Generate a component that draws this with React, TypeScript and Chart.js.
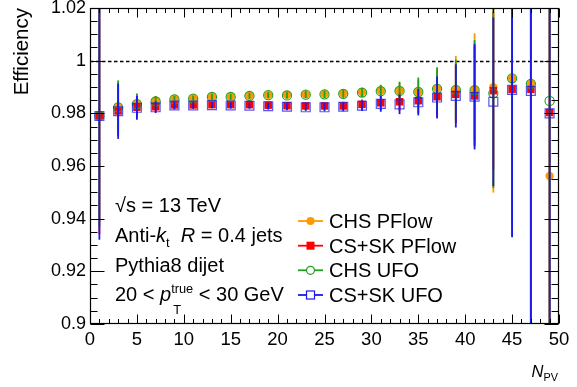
import React, { useEffect, useRef } from 'react';
import { Chart, registerables } from 'chart.js';

Chart.register(...registerables);

const FONT = '"Liberation Sans", Arial, Helvetica, sans-serif';

// ---- data ----
const nPV = [1, 3, 5, 7, 9, 11, 13, 15, 17, 19, 21, 23, 25, 27, 29, 31, 33, 35, 37, 39, 41, 43, 45, 47, 49];

const chsPFlow = [0.979, 0.9825, 0.9838, 0.9848, 0.9856, 0.9857, 0.9863, 0.9863, 0.9867, 0.987, 0.987, 0.9872, 0.9874, 0.9876, 0.9881, 0.9886, 0.9886, 0.9882, 0.9895, 0.9891, 0.9891, 0.9899, 0.9933, 0.9914, 0.9562];
const chsPFlowErr = [0.04, 0.009, 0.0035, 0.0018, 0.0012, 0.001, 0.001, 0.001, 0.001, 0.001, 0.0011, 0.0012, 0.0013, 0.0014, 0.0016, 0.0022, 0.003, 0.0045, 0.007, 0.0127, 0.0213, 0.04, 0.06, 0.1, 0.13];

const csskPFlow = [0.9791, 0.9809, 0.9823, 0.9825, 0.9832, 0.9832, 0.9833, 0.9833, 0.9833, 0.9831, 0.9829, 0.9828, 0.9828, 0.9828, 0.9834, 0.984, 0.9844, 0.9848, 0.9863, 0.9872, 0.9866, 0.9886, 0.9891, 0.9891, 0.9803];
const csskPFlowErr = [0.045, 0.0095, 0.004, 0.002, 0.0014, 0.0012, 0.0011, 0.0011, 0.0011, 0.0012, 0.0012, 0.0013, 0.0014, 0.0016, 0.0019, 0.0028, 0.0034, 0.0047, 0.0075, 0.011, 0.019, 0.03, 0.05, 0.12, 0.14];

const chsUFO = [0.979, 0.9823, 0.9835, 0.9845, 0.9853, 0.9856, 0.9862, 0.9862, 0.9866, 0.9869, 0.9868, 0.9871, 0.9872, 0.9874, 0.9879, 0.9884, 0.9885, 0.9881, 0.9893, 0.9889, 0.9888, 0.9876, 0.9933, 0.9912, 0.9847];
const chsUFOErr = [0.042, 0.0102, 0.004, 0.0019, 0.0013, 0.0011, 0.0011, 0.0011, 0.0011, 0.0011, 0.0012, 0.0013, 0.0014, 0.0015, 0.0017, 0.0024, 0.0035, 0.0055, 0.0082, 0.0115, 0.019, 0.036, 0.06, 0.12, 0.14];

const csskUFO = [0.979, 0.9808, 0.9821, 0.9823, 0.983, 0.983, 0.9831, 0.983, 0.9829, 0.9827, 0.9825, 0.9823, 0.9823, 0.9825, 0.9829, 0.9836, 0.9834, 0.9842, 0.986, 0.9866, 0.9863, 0.9844, 0.9889, 0.9885, 0.98];
const csskUFOErr = [0.047, 0.0105, 0.0045, 0.0022, 0.0015, 0.0013, 0.0012, 0.0012, 0.0012, 0.0013, 0.0013, 0.0014, 0.0015, 0.0017, 0.002, 0.003, 0.0037, 0.005, 0.008, 0.012, 0.02, 0.032, 0.056, 0.15, 0.15];

const seriesLabels = ['CHS PFlow', 'CS+SK PFlow', 'CHS UFO', 'CS+SK UFO'];
const seriesColors = ['#ff9900', '#ff0000', '#1f9f1f', '#1a1ae6'];

const xTicks = [0, 5, 10, 15, 20, 25, 30, 35, 40, 45, 50];
const xTickLabels = ['0', '5', '10', '15', '20', '25', '30', '35', '40', '45', '50'];
const yTicks = [0.9, 0.92, 0.94, 0.96, 0.98, 1, 1.02];
const yTickLabels = ['0.9', '0.92', '0.94', '0.96', '0.98', '1', '1.02'];
const xMinorStep = 1;
const yMinorStep = 0.005;
const referenceLine = 1;

const annotationLines = ['√s = 13 TeV', 'Anti-k_t R = 0.4 jets', 'Pythia8 dijet', '20 < p_T^true < 30 GeV'];

type Seg =
  | { t: string; italic?: boolean; scale?: number; dy?: number }
  | { sup: string; sub: string; scale: number; supDy: number; subDy: number };

function segWidth(ctx: CanvasRenderingContext2D, size: number, segs: Seg[]) {
  let w = 0;
  for (const s of segs) {
    if ('sup' in s) {
      ctx.font = `${size * s.scale}px ${FONT}`;
      w += Math.max(ctx.measureText(s.sup).width, ctx.measureText(s.sub).width);
    } else {
      ctx.font = `${s.italic ? 'italic ' : ''}${size * (s.scale ?? 1)}px ${FONT}`;
      w += ctx.measureText(s.t).width;
    }
  }
  return w;
}

function drawRich(ctx: CanvasRenderingContext2D, x: number, y: number, size: number, segs: Seg[]) {
  let cx = x;
  ctx.textAlign = 'left';
  ctx.textBaseline = 'alphabetic';
  for (const s of segs) {
    if ('sup' in s) {
      ctx.font = `${size * s.scale}px ${FONT}`;
      const w1 = ctx.measureText(s.sup).width;
      const w2 = ctx.measureText(s.sub).width;
      ctx.fillText(s.sup, cx, y + s.supDy);
      ctx.fillText(s.sub, cx + 2, y + s.subDy);
      cx += Math.max(w1, w2 + 2);
    } else {
      ctx.font = `${s.italic ? 'italic ' : ''}${size * (s.scale ?? 1)}px ${FONT}`;
      ctx.fillText(s.t, cx, y + (s.dy ?? 0));
      cx += ctx.measureText(s.t).width;
    }
  }
  return cx;
}

function parseAnnotation(line: string): Seg[] {
  if (line.includes('k_t')) {
    const [a, b] = line.split('k_t');
    const [, rest] = b.split('R');
    return [{ t: a }, { t: 'k', italic: true }, { t: 't', scale: 0.65, dy: 5 }, { t: '  ' }, { t: 'R', italic: true }, { t: rest }];
  }
  if (line.includes('p_T^true')) {
    const [a, b] = line.split('p_T^true');
    return [{ t: a }, { t: 'p', italic: true }, { sup: 'true', sub: 'T', scale: 0.64, supDy: -8, subDy: 13 }, { t: b }];
  }
  return [{ t: line }];
}

const errorBarPlugin = {
  id: 'errbars',
  beforeDatasetDraw(chart: any, args: any) {
    const ds = chart.data.datasets[args.index];
    const errs: number[] = ds.errors;
    if (!errs) return;
    const { ctx, chartArea: ca } = chart;
    const xs = chart.scales.x;
    const ys = chart.scales.y;
    ctx.save();
    ctx.beginPath();
    ctx.rect(ca.left, ca.top, ca.right - ca.left, ca.bottom - ca.top);
    ctx.clip();
    ctx.strokeStyle = ds.errColor;
    ctx.lineWidth = 1.8;
    ds.data.forEach((p: any, i: number) => {
      const e = errs[i];
      const px = xs.getPixelForValue(p.x);
      const y1 = ys.getPixelForValue(p.y + e);
      const y2 = ys.getPixelForValue(p.y - e);
      ctx.beginPath();
      ctx.moveTo(px, y1);
      ctx.lineTo(px, y2);
      ctx.stroke();
    });
    ctx.restore();
  },
};

const decorPlugin = {
  id: 'decor',
  beforeDatasetsDraw(chart: any) {
    const { ctx, chartArea: ca } = chart;
    const ys = chart.scales.y;
    const yy = Math.round(ys.getPixelForValue(referenceLine)) + 0.5;
    ctx.save();
    ctx.strokeStyle = '#000';
    ctx.lineWidth = 1.3;
    ctx.setLineDash([3.5, 2.5]);
    ctx.beginPath();
    ctx.moveTo(ca.left, yy);
    ctx.lineTo(ca.right, yy);
    ctx.stroke();
    ctx.restore();
  },
  afterDraw(chart: any) {
    const { ctx, chartArea: ca } = chart;
    const xs = chart.scales.x;
    const ys = chart.scales.y;
    const L = Math.round(ca.left) + 0.5;
    const R = Math.round(ca.right) - 0.5;
    const T = Math.round(ca.top) + 0.5;
    const B = Math.round(ca.bottom) - 0.5;
    ctx.save();
    ctx.strokeStyle = '#000';
    ctx.lineWidth = 1.2;
    ctx.strokeRect(L, T, R - L, B - T);
    ctx.lineWidth = 1;
    ctx.beginPath();
    const xmin = xTicks[0];
    const xmax = xTicks[xTicks.length - 1];
    for (let k = 0; xmin + k * xMinorStep <= xmax + 1e-9; k++) {
      const v = xmin + k * xMinorStep;
      const major = xTicks.some((t) => Math.abs(t - v) < 1e-9);
      const len = major ? 9 : 4.5;
      const px = Math.round(xs.getPixelForValue(v)) + 0.5;
      ctx.moveTo(px, B);
      ctx.lineTo(px, B - len);
      ctx.moveTo(px, T);
      ctx.lineTo(px, T + len);
    }
    const ymin = yTicks[0];
    const ymax = yTicks[yTicks.length - 1];
    for (let k = 0; ymin + k * yMinorStep <= ymax + 1e-9; k++) {
      const v = ymin + k * yMinorStep;
      const major = yTicks.some((t) => Math.abs(t - v) < 1e-9);
      const len = major ? 14 : 7;
      const py = Math.round(ys.getPixelForValue(v)) + 0.5;
      ctx.moveTo(L, py);
      ctx.lineTo(L + len, py);
      ctx.moveTo(R, py);
      ctx.lineTo(R - len, py);
    }
    ctx.stroke();

    ctx.fillStyle = '#000';
    // y title
    ctx.save();
    ctx.translate(28, ca.top);
    ctx.rotate(-Math.PI / 2);
    ctx.font = `20.5px ${FONT}`;
    ctx.textAlign = 'right';
    ctx.textBaseline = 'alphabetic';
    ctx.fillText('Efficiency', 0, 0);
    ctx.restore();

    // x title
    const xSegs: Seg[] = [{ t: 'N', italic: true }, { t: 'PV', scale: 0.66, dy: 4 }];
    const w = segWidth(ctx, 16.5, xSegs);
    drawRich(ctx, 558 - w, 377, 16.5, xSegs);

    // annotations
    const baseY = [212, 242, 272, 301];
    annotationLines.forEach((line, i) => {
      drawRich(ctx, 115, baseY[i], 20, parseAnnotation(line));
    });

    // legend
    const rowY = [221, 245.7, 270.3, 295];
    const lx0 = 298;
    const lx1 = 323;
    const mx = (lx0 + lx1) / 2;
    seriesLabels.forEach((lab, i) => {
      const y = rowY[i];
      const col = seriesColors[i];
      ctx.strokeStyle = col;
      ctx.lineWidth = 1.8;
      ctx.beginPath();
      ctx.moveTo(lx0, y);
      ctx.lineTo(lx1, y);
      ctx.stroke();
      ctx.lineWidth = 1.2;
      if (i === 0) {
        ctx.fillStyle = col;
        ctx.beginPath();
        ctx.arc(mx, y, 4, 0, Math.PI * 2);
        ctx.fill();
      } else if (i === 1) {
        ctx.fillStyle = col;
        ctx.fillRect(mx - 4, y - 4, 8, 8);
      } else if (i === 2) {
        ctx.fillStyle = '#fff';
        ctx.beginPath();
        ctx.arc(mx, y, 4, 0, Math.PI * 2);
        ctx.fill();
        ctx.stroke();
      } else {
        ctx.fillStyle = '#fff';
        ctx.fillRect(mx - 4, y - 4, 8, 8);
        ctx.strokeRect(mx - 4, y - 4, 8, 8);
      }
      ctx.fillStyle = '#000';
      ctx.font = `20px ${FONT}`;
      ctx.textAlign = 'left';
      ctx.textBaseline = 'alphabetic';
      ctx.fillText(lab, 329, y + 7);
    });
    ctx.restore();
  },
};

export default function App() {
  const ref = useRef<HTMLCanvasElement | null>(null);

  useEffect(() => {
    if (!ref.current) return;
    const mk = (vals: number[]) => vals.map((v, i) => ({ x: nPV[i], y: v }));
    const datasets: any[] = [
      {
        label: seriesLabels[0], data: mk(chsPFlow), errors: chsPFlowErr, errColor: seriesColors[0], order: 3,
        pointStyle: 'circle', pointRadius: 4.2, backgroundColor: seriesColors[0], borderColor: seriesColors[0], borderWidth: 0,
      },
      {
        label: seriesLabels[1], data: mk(csskPFlow), errors: csskPFlowErr, errColor: seriesColors[1], order: 2,
        pointStyle: 'rect', pointRadius: 5.3, backgroundColor: seriesColors[1], borderColor: seriesColors[1], borderWidth: 0,
      },
      {
        label: seriesLabels[2], data: mk(chsUFO), errors: chsUFOErr, errColor: seriesColors[2], order: 1,
        pointStyle: 'circle', pointRadius: 4.6, backgroundColor: 'rgba(0,0,0,0)', borderColor: seriesColors[2], borderWidth: 1.1,
      },
      {
        label: seriesLabels[3], data: mk(csskUFO), errors: csskUFOErr, errColor: seriesColors[3], order: 0,
        pointStyle: 'rect', pointRadius: 6.3, backgroundColor: 'rgba(0,0,0,0)', borderColor: 'rgba(30,30,235,0.75)', borderWidth: 1.2,
      },
    ];
    const chart = new Chart(ref.current, {
      type: 'scatter',
      data: { datasets },
      options: {
        responsive: false,
        animation: false,
        events: [],
        devicePixelRatio: 1,
        layout: { padding: { top: 8, right: 18, left: 0, bottom: 0 } },
        plugins: { legend: { display: false }, tooltip: { enabled: false } },
        scales: {
          x: {
            type: 'linear', min: xTicks[0], max: xTicks[xTicks.length - 1],
            grid: { display: false, drawTicks: false },
            border: { display: false },
            afterFit: (s: any) => { s.height = 63; s.paddingLeft = 0; s.paddingRight = 0; },
            afterBuildTicks: (s: any) => { s.ticks = xTicks.map((v) => ({ value: v })); },
            ticks: {
              padding: 5, color: '#000', font: { family: FONT, size: 18.5 }, maxRotation: 0, autoSkip: false,
              callback: (v: any) => { const i = xTicks.findIndex((t) => Math.abs(t - v) < 1e-9); return i >= 0 ? xTickLabels[i] : ''; },
            },
          },
          y: {
            type: 'linear', min: yTicks[0], max: yTicks[yTicks.length - 1],
            grid: { display: false, drawTicks: false },
            border: { display: false },
            afterFit: (s: any) => { s.width = 90; s.paddingTop = 0; s.paddingBottom = 0; },
            afterBuildTicks: (s: any) => { s.ticks = yTicks.map((v) => ({ value: v })); },
            ticks: {
              padding: 4, color: '#000', font: { family: FONT, size: 18 }, autoSkip: false,
              callback: (v: any) => { const i = yTicks.findIndex((t) => Math.abs(t - v) < 1e-9); return i >= 0 ? yTickLabels[i] : ''; },
            },
          },
        },
      } as any,
      plugins: [errorBarPlugin, decorPlugin],
    });
    return () => chart.destroy();
  }, []);

  return (
    <div style={{ position: 'fixed', left: 0, top: 0, width: 577, height: 387, background: '#fff' }}>
      <canvas ref={ref} width={577} height={387} style={{ width: 577, height: 387, display: 'block' }} />
    </div>
  );
}
